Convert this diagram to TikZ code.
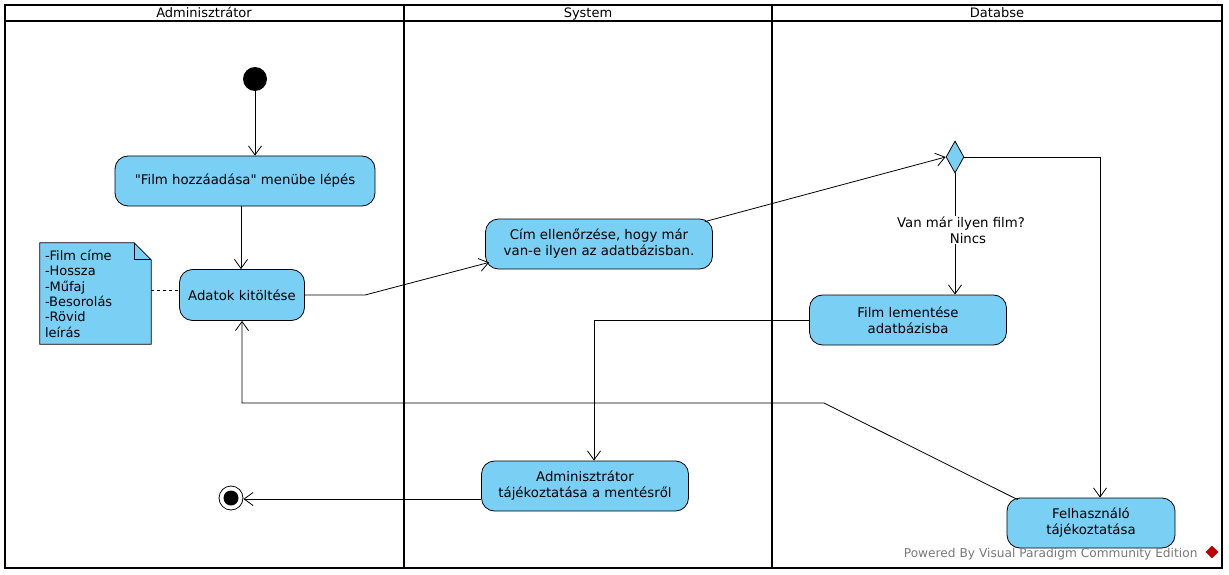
\documentclass[tikz,border=0pt]{standalone}
\usepackage{fontspec}
\setmainfont{DejaVu Sans}
% second family without TeX ligatures, for straight double quotes
\newfontfamily\rawfont{DejaVu Sans}
\usetikzlibrary{arrows.meta,shapes.geometric,calc}
\definecolor{actfill}{RGB}{122,207,245}
\definecolor{footgray}{RGB}{120,120,120}
\begin{document}
\begin{tikzpicture}[x=1pt,y=-1pt,
  lane/.style={line width=2.2pt},
  act/.style={draw, fill=actfill, rounded corners=13pt, align=center,
    inner sep=0pt, line width=0.8pt, font=\fontsize{13.3}{16}\selectfont},
  flow/.style={line width=0.8pt, -{Straight Barb[length=9pt,width=13pt]}},
  plain/.style={line width=0.8pt},
  hdr/.style={font=\fontsize{13}{15}\selectfont}]
\useasboundingbox (0,0) rectangle (1229,575);
% swimlane frame
\draw[lane] (5,5) rectangle (1222,568);
\draw[lane] (5,21) -- (1222,21);
\draw[lane] (404,5) -- (404,568);
\draw[lane] (772,5) -- (772,568);
\node[hdr, anchor=base] (h1) at (204,18) {Adminisztrátor};
\node[hdr, anchor=base] (h2) at (588,18) {System};
\node[hdr, anchor=base] (h3) at (997,18) {Databse};

% activity nodes
\node[circle, fill=black, minimum size=24pt, inner sep=0pt] (start) at (255,79) {};
\node[act, minimum width=260pt, minimum height=50pt] (a1) at (245,181) {{\rawfont"}Film hozzáadása{\rawfont"} menübe lépés};
\node[act, minimum width=125pt, minimum height=51pt] (a2) at (242,295) {Adatok kitöltése};
\node[act, minimum width=227pt, minimum height=50pt] (a3) at (599,244) {Cím ellenőrzése, hogy már\\van-e ilyen az adatbázisban.};
\node[diamond, draw, fill=actfill, line width=0.8pt, inner sep=0pt,
  minimum width=18pt, minimum height=32pt] (dec) at (955,157) {};
\node[act, minimum width=197pt, minimum height=50pt] (a4) at (908,320) {Film lementése\\adatbázisba};
\node[act, minimum width=207pt, minimum height=50pt] (a5) at (585,486) {Adminisztrátor\\tájékoztatása a mentésről};
\node[act, minimum width=168pt, minimum height=50pt] (a6) at (1091,523) {Felhasználó\\tájékoztatása};
\node[circle, draw, fill=white, line width=0.8pt, minimum size=24pt, inner sep=0pt] (end) at (231,498) {};
\fill (end) circle (7.5pt);

% note with folded corner
\node[minimum width=111pt, minimum height=101pt, inner sep=0pt] (note) at (95.5,293.5) {};
\draw[fill=actfill, line width=0.8pt]
  (note.north west) -- ($(note.north east)+(-17,0)$) -- ($(note.north east)+(0,17)$)
  -- (note.south east) -- (note.south west) -- cycle;
\draw[line width=0.8pt] ($(note.north east)+(-17,0)$) -- ($(note.north east)+(-17,17)$) -- ($(note.north east)+(0,17)$);
\node[anchor=north west, align=left, inner sep=0pt, font=\fontsize{13}{15.4}\selectfont]
  (notetext) at ($(note.north west)+(5,7)$) {-Film címe\\-Hossza\\-Műfaj\\-Besorolás\\-Rövid\\leírás};
\draw[plain, dashed] (note.east |- 0,290) -- (a2.west |- 0,290);

% control flows
\draw[flow] (start.south) -- (start.south |- a1.north);
\draw[flow] ([xshift=-4pt]a1.south) -- ([xshift=-4pt]a1.south |- a2.north);
\coordinate (k1) at (365,295);
\draw[flow] (a2.east) -- (k1) -- ($(a3.south west)+(4,-7)$);
\draw[flow] ($(a3.north east)+(-8,3)$) -- (dec.west);
\draw[flow] (dec.south) -- (dec.south |- a4.north);
\node[align=center, font=\fontsize{13.3}{16}\selectfont, fill=white, inner sep=1pt] (guard)
  at (961,230) {Van már ilyen film?\\\hspace*{14pt}Nincs};
\draw[flow] (dec.east) -| ($(a6.north)+(9,0)$);
\draw[flow] (a4.west) -| ($(a5.north)+(9,0)$);
\coordinate (k2) at (824,403);
\draw[flow] ($(a6.north west)+(11,2)$) -- (k2) -- (a2.south |- k2) -- (a2.south);
\coordinate (k3) at ($(a5.west)+(0,13)$);
\draw[flow] (k3) -- (k3 -| end.east);

% footer
\node[anchor=east, font=\fontsize{12.2}{14}\selectfont, text=footgray] (foot) at (1201,554) {Powered By Visual Paradigm Community Edition};
\node[diamond, fill=red!75!black, minimum size=13pt, inner sep=0pt] (logo) at (1212,552) {};
\end{tikzpicture}
\end{document}
